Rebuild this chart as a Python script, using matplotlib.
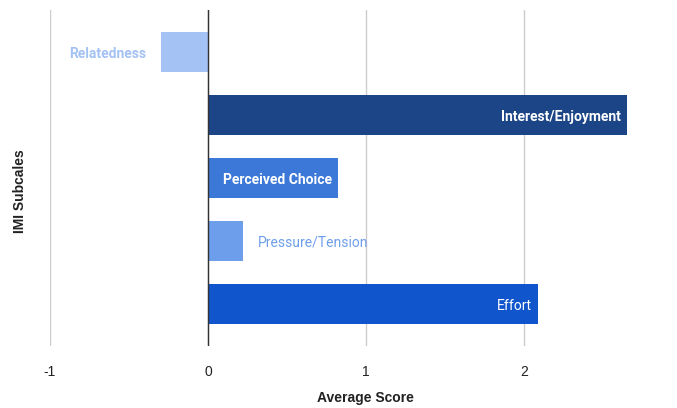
import matplotlib.pyplot as plt

subscales = ["Relatedness", "Interest/Enjoyment", "Perceived Choice", "Pressure/Tension", "Effort"]
scores = [-0.30, 2.65, 0.82, 0.22, 2.09]
colors = ["#a4c2f4", "#1c4587", "#3c78d8", "#6d9eeb", "#1155cc"]
label_inside = [False, True, True, False, True]
label_bold = [True, True, True, False, False]
x_ticks = [-1, 0, 1, 2]

fig = plt.figure(figsize=(6.77, 4.08), dpi=100)
ax = fig.add_axes([50/677, 1-346/408, 627/677, 336/408])

y = list(range(len(subscales)))
ax.barh(y, scores, height=0.635, color=colors, zorder=3)

for i, (v, name) in enumerate(zip(scores, subscales)):
    w = "bold" if label_bold[i] else "normal"
    if label_inside[i]:
        ax.annotate(name, (v, i), xytext=(-6, -2), textcoords="offset pixels",
                    ha="right", va="center", color="white", fontsize=10,
                    fontweight=w, family="Roboto", zorder=4)
    else:
        dx = 15 if v >= 0 else -14
        ax.annotate(name, (v, i), xytext=(dx, -2), textcoords="offset pixels",
                    ha="left" if v >= 0 else "right", va="center", color=colors[i],
                    fontsize=10, fontweight=w, family="Roboto", zorder=4)

ax.set_xlim(-1, 2.968)
ax.set_ylim(4.667, -0.667)
ax.set_xticks(x_ticks)
ax.set_xticklabels([str(t) for t in x_ticks], family="Liberation Sans", fontsize=10, color="#222222")
ax.set_yticks([])
ax.tick_params(axis="x", length=0, pad=14)
ax.grid(axis="x", color="#cccccc", linewidth=1, zorder=0)
ax.axvline(0, color="#333333", linewidth=1, zorder=5)
for s in ax.spines.values():
    s.set_visible(False)

fig.text(365/677, 1-398/408, "Average Score", ha="center", va="center",
         family="Liberation Sans", fontweight="bold", fontsize=10, color="#222222")
fig.text(20/677, 1-191/408, "IMI Subcales", ha="center", va="center", rotation=90,
         family="Liberation Sans", fontweight="bold", fontsize=10, color="#222222")

fig.savefig("out.png")
